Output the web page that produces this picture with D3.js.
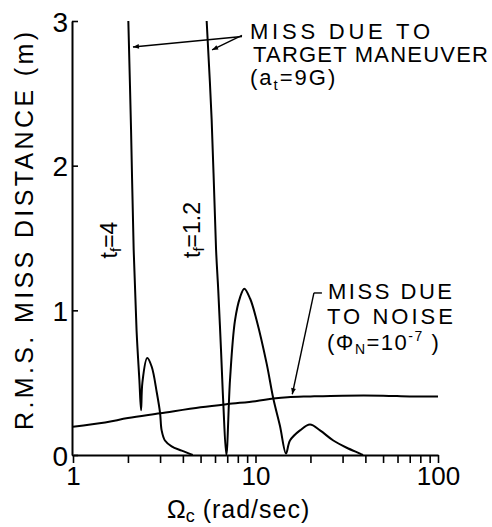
<!DOCTYPE html>
<html>
<head>
<meta charset="utf-8">
<script src="https://cdn.jsdelivr.net/npm/d3@7"></script>
<style>
  html, body { margin: 0; padding: 0; background: #fff; }
  svg { display: block; }
  text { font-family: "Liberation Sans", Arial, sans-serif; fill: #000; }
</style>
</head>
<body>
<svg id="chart" width="492" height="527"></svg>
<script>
// Crossover frequency (rad/sec) and r.m.s. miss distance (m), tf = 4 s
const omegaT4 = [2.01, 2.08, 2.15, 2.23, 2.31, 2.36, 2.40, 2.55, 2.70, 2.88, 3.00, 3.06, 3.19, 3.47, 3.94, 4.53];
const missT4  = [3.00, 2.25, 1.42, 0.86, 0.52, 0.31, 0.50, 0.67, 0.61, 0.43, 0.29, 0.17, 0.10, 0.06, 0.03, 0.00];

// tf = 1.2 s
const omegaT12 = [5.40, 5.75, 6.08, 6.25, 6.47, 6.66, 6.92, 7.25, 7.72, 8.23, 8.68, 9.35, 10.15, 11.52, 12.52, 13.62, 14.69, 15.45, 17.53, 19.89, 22.57, 26.69, 31.60, 37.38, 38.82];
const missT12  = [3.00, 2.32, 1.42, 1.14, 0.73, 0.36, 0.00, 0.52, 0.93, 1.09, 1.15, 1.08, 0.93, 0.63, 0.39, 0.20, 0.01, 0.10, 0.17, 0.21, 0.17, 0.10, 0.05, 0.01, 0.00];

// Miss due to noise
const omegaNoise = [1, 1.5, 2, 3, 5, 7, 10, 12.5, 15, 20, 30, 50, 70, 100];
const missNoise  = [0.196, 0.225, 0.255, 0.288, 0.33, 0.352, 0.372, 0.39, 0.40, 0.405, 0.41, 0.41, 0.405, 0.405];

// Axis ticks
const xMinorTicks = [1,2,3,4,5,6,7,8,9,10,20,30,40,50,60,70,80,90,100];
const xTickLabels = [1, 10, 100];
const yTicks = [0, 1, 2, 3];

const svg = d3.select("#chart");
const x = d3.scaleLog().domain([1, 100]).range([73, 438]);
const y = d3.scaleLinear().domain([0, 3]).range([455, 21]);

// Arrowhead marker
svg.append("defs").append("marker")
  .attr("id", "arrow")
  .attr("viewBox", "0 0 10 10")
  .attr("refX", 10).attr("refY", 5)
  .attr("markerWidth", 9).attr("markerHeight", 6)
  .attr("markerUnits", "userSpaceOnUse")
  .attr("orient", "auto")
  .append("path").attr("d", "M0,1 L10,5 L0,9 Z").attr("fill", "#000");

// X axis
const xAxis = d3.axisBottom(x)
  .tickValues(xMinorTicks)
  .tickSize(8)
  .tickSizeOuter(0)
  .tickPadding(4)
  .tickFormat(d => xTickLabels.includes(d) ? String(d) : "");
const gx = svg.append("g").attr("transform", `translate(0,${y(0)})`).call(xAxis);
gx.select(".domain").attr("stroke", "#000").attr("stroke-width", 2);
gx.selectAll(".tick line").attr("stroke", "#000").attr("stroke-width", 1.6);
gx.selectAll(".tick text").attr("font-size", 26).attr("font-family", "Liberation Sans").attr("fill", "#000");

// Y axis (ticks pointing inward)
const yAxis = d3.axisLeft(y)
  .tickValues(yTicks)
  .tickSize(-6)
  .tickSizeOuter(0)
  .tickPadding(4)
  .tickFormat(d3.format("d"));
const gy = svg.append("g").attr("transform", `translate(${x(1) - 1},0)`).call(yAxis);
gy.select(".domain").attr("stroke", "#000").attr("stroke-width", 2);
gy.selectAll(".tick line").attr("stroke", "#000").attr("stroke-width", 1.6);
gy.selectAll(".tick text").attr("font-size", 28).attr("font-family", "Liberation Sans").attr("fill", "#000").attr("dy", "0.36em");

// Curves
const line = d3.line()
  .x(d => x(d[0]))
  .y(d => y(d[1]))
  .curve(d3.curveCatmullRom.alpha(0.5));

function drawCurve(om, vals, width) {
  svg.append("path")
    .datum(om.map((o, i) => [o, vals[i]]))
    .attr("d", line)
    .attr("fill", "none")
    .attr("stroke", "#000")
    .attr("stroke-width", width)
    .attr("stroke-linejoin", "round");
}
drawCurve(omegaNoise, missNoise, 2);
drawCurve(omegaT4, missT4, 2);
drawCurve(omegaT12, missT12, 2);

// Curve labels (rotated)
function rotLabel(px, py, sub, rest) {
  const t = svg.append("text")
    .attr("transform", `translate(${px},${py}) rotate(-90)`)
    .attr("text-anchor", "middle")
    .attr("font-size", 23);
  t.append("tspan").text("t");
  t.append("tspan").attr("font-size", 15).attr("dy", 4).text(sub);
  t.append("tspan").attr("dy", -4).text(rest);
}
rotLabel(117, 240, "f", "=4");
rotLabel(200, 230, "f", "=1.2");

// Target maneuver annotation
const a0 = [x(8.43), y(2.9)];
svg.append("line")
  .attr("x1", a0[0]).attr("y1", a0[1] + 1)
  .attr("x2", x(2.13)).attr("y2", y(2.82))
  .attr("stroke", "#000").attr("stroke-width", 1.4)
  .attr("marker-end", "url(#arrow)");
svg.append("line")
  .attr("x1", a0[0]).attr("y1", a0[1])
  .attr("x2", x(5.78)).attr("y2", y(2.8))
  .attr("stroke", "#000").attr("stroke-width", 1.4)
  .attr("marker-end", "url(#arrow)");

const annFont = 22;
svg.append("text").attr("x", 250).attr("y", 39).attr("font-size", annFont)
  .attr("textLength", 180).attr("lengthAdjust", "spacing").text("MISS DUE TO");
svg.append("text").attr("x", 253).attr("y", 62).attr("font-size", annFont)
  .attr("textLength", 235).attr("lengthAdjust", "spacing").text("TARGET MANEUVER");
const at = svg.append("text").attr("x", 250).attr("y", 85).attr("font-size", annFont)
  .attr("letter-spacing", 2);
at.append("tspan").text("(a");
at.append("tspan").attr("font-size", 15).attr("dy", 5).text("t");
at.append("tspan").attr("dy", -5).text("=9G)");

// Noise annotation
const n0 = [x(20.9), y(1.12)];
svg.append("line")
  .attr("x1", n0[0]).attr("y1", n0[1])
  .attr("x2", n0[0] + 8).attr("y2", n0[1])
  .attr("stroke", "#000").attr("stroke-width", 1.4);
svg.append("line")
  .attr("x1", n0[0]).attr("y1", n0[1])
  .attr("x2", x(15.9)).attr("y2", y(0.42))
  .attr("stroke", "#000").attr("stroke-width", 1.4)
  .attr("marker-end", "url(#arrow)");

svg.append("text").attr("x", 328).attr("y", 299).attr("font-size", annFont)
  .attr("textLength", 124).attr("lengthAdjust", "spacing").text("MISS DUE");
svg.append("text").attr("x", 327).attr("y", 324).attr("font-size", annFont)
  .attr("textLength", 126).attr("lengthAdjust", "spacing").text("TO NOISE");
const nt = svg.append("text").attr("x", 327).attr("y", 350).attr("font-size", annFont)
  .attr("letter-spacing", 1.5);
nt.append("tspan").text("(Φ");
nt.append("tspan").attr("font-size", 14).attr("dy", 4).text("N");
nt.append("tspan").attr("dy", -4).text("=10");
nt.append("tspan").attr("font-size", 14).attr("dy", -9).text("-7");
nt.append("tspan").attr("dy", 9).text(" )");

// Axis titles
svg.append("text")
  .attr("transform", `translate(33,231) rotate(-90)`)
  .attr("text-anchor", "middle")
  .attr("font-size", 25)
  .attr("textLength", 398).attr("lengthAdjust", "spacing")
  .text("R.M.S. MISS DISTANCE (m)");

const xt = svg.append("text")
  .attr("x", 167).attr("y", 518)
  .attr("font-size", 25);
xt.append("tspan").text("Ω");
xt.append("tspan").attr("font-size", 18).attr("dy", 4).text("c");
xt.append("tspan").attr("dy", -4).attr("letter-spacing", 1).text(" (rad/sec)");
</script>
</body>
</html>
